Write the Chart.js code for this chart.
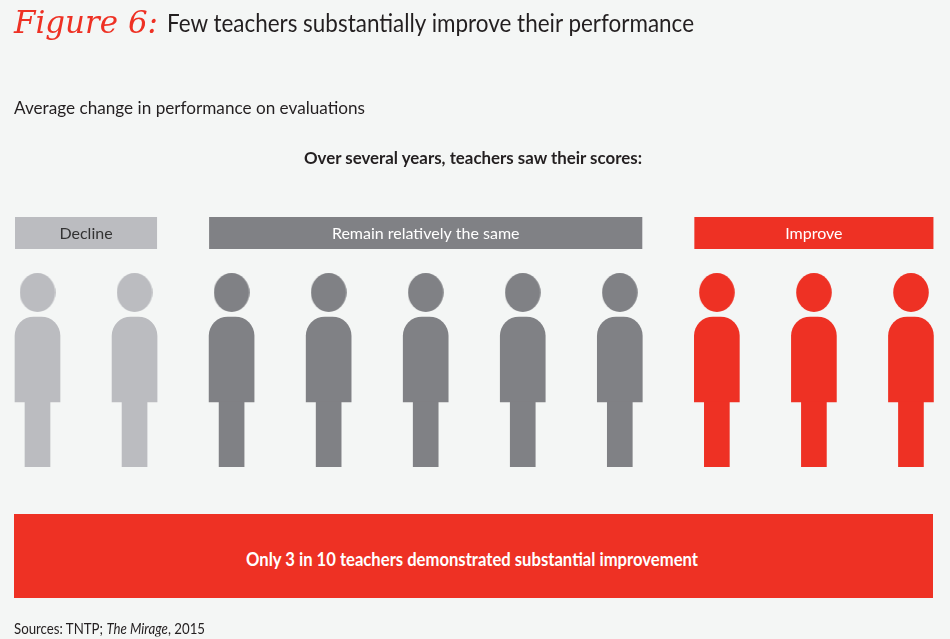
<!DOCTYPE html>
<html>
<head>
<meta charset="utf-8">
<script src="https://cdn.jsdelivr.net/npm/chart.js@4.4.1/dist/chart.umd.min.js"></script>
<style>
  html, body { margin: 0; padding: 0; background: #f4f6f5; }
  #wrap { position: relative; width: 950px; height: 639px; overflow: hidden; font-family: Lato, "Noto Sans", sans-serif; color: #231f20; }
  #chart { position: absolute; left: 0; top: 0; }
  .t { position: absolute; white-space: nowrap; line-height: 1; transform-origin: 0 50%; }
  #banner { position: absolute; left: 14px; top: 514px; width: 919px; height: 84px; background: #ee3124; }
</style>
</head>
<body>
<div id="wrap">
  <canvas id="chart"></canvas>
  <div class="t" id="fig" data-x="14" data-y="22" data-w="144" style="font-size:31px;font-style:italic;color:#ee3124;font-family:'DejaVu Serif',serif;font-weight:200;">Figure 6:</div>
  <div class="t" id="title" data-x="167" data-y="22" data-w="527" style="font-size:25px;">Few teachers substantially improve their performance</div>
  <div class="t" data-x="14" data-y="107" data-w="351" style="font-size:17px;">Average change in performance on evaluations</div>
  <div class="t" data-x="304" data-y="157" data-w="338" style="font-size:17px;font-weight:bold;">Over several years, teachers saw their scores:</div>
  <div id="banner"></div>
  <div class="t" data-x="246" data-y="559" data-w="452" style="font-size:18px;font-weight:bold;color:#fff;">Only 3 in 10 teachers demonstrated substantial improvement</div>
  <div class="t" data-x="14" data-y="628" data-w="191" style="font-size:15px;">Sources: TNTP; <i>The Mirage</i>, 2015</div>
</div>

<script>
// Grupos y número de profesores (de cada 10)
const groups = ["Decline", "Remain relatively the same", "Improve"];
const teachers = [2, 5, 3];

const groupColors = ["#bbbcc0", "#808185", "#ee3124"];
const labelColors = ["#333333", "#ffffff", "#ffffff"];

// Forma de la figura (unidades del eje y, desde el suelo)
const LEGS = [0, 65];
const BODY = [65, 150];
const HEAD_Y = 174.5;
const BOX = [218, 250];

// Una figura por profesor
const figures = [];
groups.forEach((g, gi) => {
  for (let k = 0; k < teachers[gi]; k++) {
    figures.push({ i: figures.length, group: gi });
  }
});
const colors = figures.map((f) => groupColors[f.group]);

// Cabeza ovalada (un poco más alta que ancha)
function headImage(color) {
  const c = document.createElement("canvas");
  c.width = 36;
  c.height = 39;
  const g = c.getContext("2d");
  g.fillStyle = color;
  g.beginPath();
  g.ellipse(18, 19.5, 17.8, 19.5, 0, 0, Math.PI * 2);
  g.fill();
  return c;
}
const heads = groupColors.map(headImage);

// Cajas de texto sobre cada grupo
const groupBoxes = {
  id: "groupBoxes",
  afterDatasetsDraw(chart) {
    const { ctx, scales } = chart;
    const x = scales.x, y = scales.y;
    ctx.save();
    groups.forEach((g, gi) => {
      const members = figures.filter((f) => f.group === gi);
      const left = x.getPixelForValue(members[0].i) - 22.5;
      const right = x.getPixelForValue(members[members.length - 1].i) + 22.5;
      const top = y.getPixelForValue(BOX[1]);
      const bottom = y.getPixelForValue(BOX[0]);
      ctx.fillStyle = groupColors[gi];
      ctx.fillRect(left, top, right - left, bottom - top);
      ctx.fillStyle = labelColors[gi];
      ctx.font = "16px Lato, 'Noto Sans', sans-serif";
      ctx.textAlign = "center";
      ctx.textBaseline = "middle";
      ctx.fillText(g, (left + right) / 2, (top + bottom) / 2 + 1);
    });
    ctx.restore();
  },
};

const canvas = document.getElementById("chart");
canvas.style.width = "950px";
canvas.style.height = "639px";

new Chart(canvas, {
  type: "bar",
  data: {
    datasets: [
      {
        label: "legs",
        data: figures.map((f) => ({ x: f.i, y: LEGS })),
        backgroundColor: colors,
        barThickness: 25,
        grouped: false,
      },
      {
        label: "body",
        data: figures.map((f) => ({ x: f.i, y: BODY })),
        backgroundColor: colors,
        barThickness: 45,
        grouped: false,
        borderSkipped: false,
        borderRadius: { topLeft: 19, topRight: 19, bottomLeft: 0, bottomRight: 0 },
      },
      {
        type: "scatter",
        label: "head",
        data: figures.map((f) => ({ x: f.i, y: HEAD_Y })),
        pointStyle: figures.map((f) => heads[f.group]),
        backgroundColor: colors,
        borderWidth: 0,
      },
    ],
  },
  options: {
    responsive: false,
    animation: false,
    events: [],
    layout: { autoPadding: false, padding: { left: 0, right: 0, top: 217, bottom: 172 } },
    scales: {
      x: { type: "linear", min: -0.3864, max: 9.4024, offset: false, display: false },
      y: { min: 0, max: 250, display: false },
    },
    plugins: { legend: { display: false }, tooltip: { enabled: false } },
  },
  plugins: [groupBoxes],
});

// Ajuste de textos al ancho del original
document.querySelectorAll(".t").forEach((el) => {
  el.style.left = el.dataset.x + "px";
  el.style.top = el.dataset.y + "px";
  const w = el.getBoundingClientRect().width;
  const s = parseFloat(el.dataset.w) / w;
  el.style.transform = "translateY(-50%) scaleX(" + s + ")";
});
</script>
</body>
</html>
